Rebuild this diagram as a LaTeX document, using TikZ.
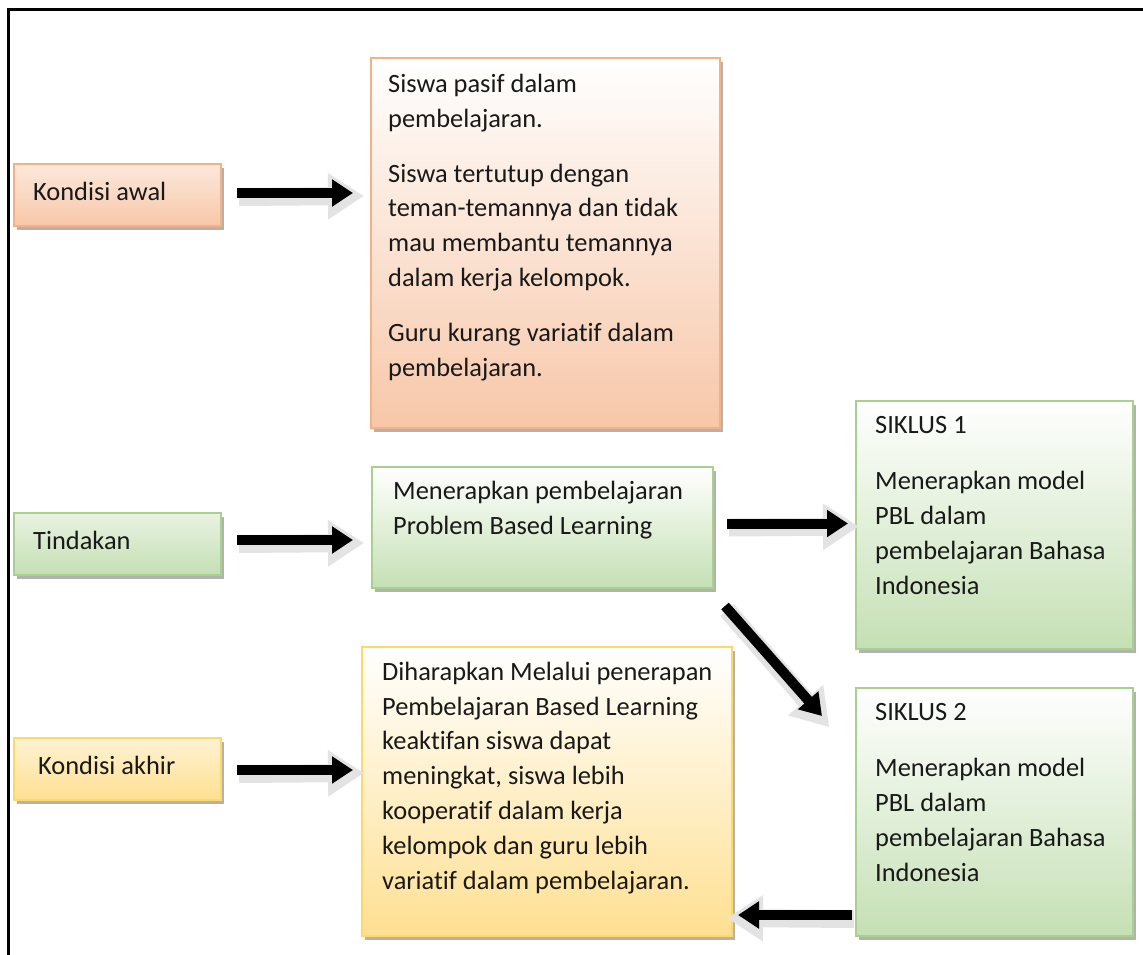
\documentclass[tikz,border=0pt]{standalone}
\usepackage{fontspec}
\setmainfont{Carlito}[Ligatures=NoCommon]
\usetikzlibrary{calc,arrows.meta,shadows}
\definecolor{orB}{RGB}{247,199,168}
\definecolor{orL}{RGB}{244,177,131}
\definecolor{grB}{RGB}{197,224,180}
\definecolor{grL}{RGB}{169,209,142}
\definecolor{yeB}{RGB}{255,224,146}
\definecolor{yeL}{RGB}{255,217,102}
\definecolor{txtc}{RGB}{25,25,25}
\newcommand\blkarrow[2]{%
  \draw[garrow] ($(#1)+(2,4)$) -- ($(#2)!-11pt!(#1)+(0,3)$);
  \draw[karrow] (#1) -- (#2);}
\begin{document}
\begin{tikzpicture}[x=1pt,y=-1pt,
  box/.style={rectangle, inner sep=0pt, outer sep=0pt, anchor=north west, line width=1.5pt,
    drop shadow={shadow xshift=3pt, shadow yshift=-4pt, opacity=0.3, fill=black}},
  obox/.style={box, draw=orL, top color=white, bottom color=orB},
  osmall/.style={box, draw=orL, top color=orB!40!white, bottom color=orB},
  gbox/.style={box, draw=grL, top color=white, bottom color=grB},
  gsmall/.style={box, draw=grL, top color=grB!40!white, bottom color=grB},
  ybox/.style={box, draw=yeL, top color=white, bottom color=yeB},
  ysmall/.style={box, draw=yeL, top color=yeB!40!white, bottom color=yeB},
  txt/.style={font=\fontsize{26.4}{34.8}\selectfont, text=txtc, align=left, inner sep=0pt, anchor=base west},
  karrow/.style={line width=10pt, black, -{Triangle[width=26pt,length=21pt]}},
  garrow/.style={line width=18pt, black!11, -{Triangle[width=44pt,length=36pt]}},
]
\useasboundingbox (0,0) rectangle (1143,955);
\fill[white] (0,0) rectangle (1143,955);
\draw[line width=3pt] (8.5,955) -- (8.5,9.5) -- (1143,9.5);

% boxes
\node[osmall, minimum width=207pt, minimum height=62pt] (kawal) at (14,164) {};
\node[obox, minimum width=349pt, minimum height=370pt] (big) at (371,58) {};
\node[gsmall, minimum width=207pt, minimum height=62pt] (tind) at (14,513) {};
\node[gbox, minimum width=341pt, minimum height=121pt] (men) at (372,467) {};
\node[gbox, minimum width=277pt, minimum height=248pt] (s1) at (856,401) {};
\node[gbox, minimum width=277pt, minimum height=248pt] (s2) at (856,688) {};
\node[ysmall, minimum width=207pt, minimum height=62pt] (kakhir) at (14,738) {};
\node[ybox, minimum width=370pt, minimum height=289pt] (yel) at (362,647) {};

% texts (anchored at the baseline of their last line)
\node[txt] (kawalt) at (33,200) {Kondisi awal};
\node[txt] (bigt) at (388,376) {Siswa pasif dalam\\pembelajaran.\\[20pt]Siswa tertutup dengan\\teman-temannya dan tidak\\mau membantu temannya\\dalam kerja kelompok.\\[20pt]Guru kurang variatif dalam\\pembelajaran.};
\node[txt] (tindt) at (33,549) {Tindakan};
\node[txt] (ment) at (393,534) {Menerapkan pembelajaran\\Problem Based Learning};
\node[txt] (s1t) at (875,594) {SIKLUS 1\\[21pt]Menerapkan model\\PBL dalam\\pembelajaran Bahasa\\Indonesia};
\node[txt] (s2t) at (875,881) {SIKLUS 2\\[21pt]Menerapkan model\\PBL dalam\\pembelajaran Bahasa\\Indonesia};
\node[txt] (kakhirt) at (38,774) {Kondisi akhir};
\node[txt] (yelt) at (382,889) {Diharapkan Melalui penerapan\\Pembelajaran Based Learning\\keaktifan siswa dapat\\meningkat, siswa lebih\\kooperatif dalam kerja\\kelompok dan guru lebih\\variatif dalam pembelajaran.};

% arrow end points
\coordinate (a1s) at ($(kawal.east)+(16,-2)$);
\coordinate (a1e) at ($(big.west |- a1s)+(-18,0)$);
\coordinate (a2s) at ($(tind.east)+(16,-4)$);
\coordinate (a2e) at ($(men.west |- a2s)+(-19,0)$);
\coordinate (a3s) at ($(men.east)+(14,-4)$);
\coordinate (a3e) at ($(s1.west |- a3s)+(-8,0)$);
\coordinate (a4s) at ($(men.south east)+(12,18)$);
\coordinate (a4e) at ($(s2.north west)+(-34,28)$);
\coordinate (a5s) at ($(kakhir.east)+(16,1)$);
\coordinate (a5e) at ($(yel.west |- a5s)+(-9,0)$);
\coordinate (a6s) at ($(s2.south west)+(-4,-21)$);
\coordinate (a6e) at ($(yel.south east)+(6,-21)$);

\blkarrow{a1s}{a1e}
\blkarrow{a2s}{a2e}
\blkarrow{a3s}{a3e}
\blkarrow{a4s}{a4e}
\blkarrow{a5s}{a5e}
\blkarrow{a6s}{a6e}
\end{tikzpicture}
\end{document}
